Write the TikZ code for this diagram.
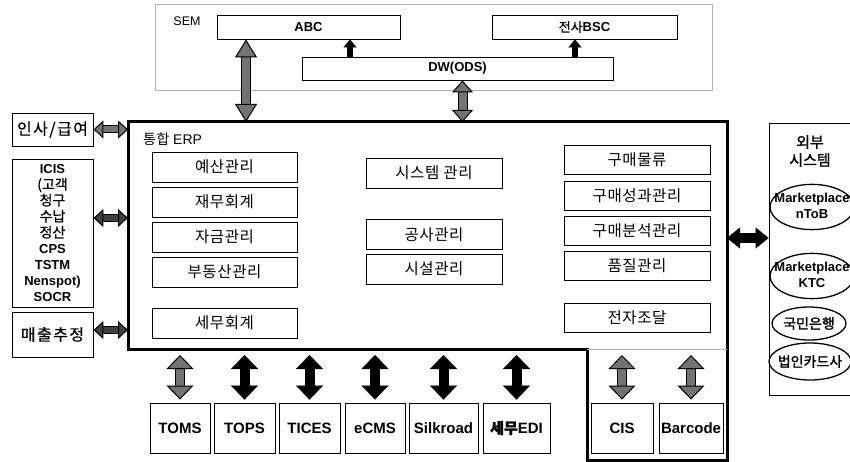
\documentclass[tikz,border=0pt]{standalone}
\usepackage{fontspec}
\setmainfont{Liberation Sans}
\newfontfamily\lat{Liberation Sans}
\newfontfamily\kr{Noto Sans CJK KR}[LetterSpace=4]
\newfontfamily\krw{Noto Sans CJK KR}[LetterSpace=9,FakeBold=0.6]
\newfontfamily\krb{Noto Sans CJK KR}[FakeBold=1.5]
\newfontfamily\krm{Noto Sans CJK KR}[FakeBold=0.8]
\usetikzlibrary{arrows.meta,shapes.geometric}
\tikzset{
  kbox/.style={draw, line width=0.9pt, inner sep=0pt, font=\kr\fontsize{15.5}{18}\selectfont},
  ebox/.style={kbox, minimum width=145pt, minimum height=30pt},
  mbox/.style={kbox, minimum width=136pt, minimum height=30pt},
  rbox/.style={kbox, minimum width=146pt, minimum height=29pt},
  lbox/.style={kbox, minimum width=81pt, font=\krw\fontsize{16}{18}\selectfont},
  topbox/.style={draw, line width=0.9pt, inner sep=0pt, minimum height=24pt, font=\bfseries\fontsize{13}{15}\selectfont},
  sbox/.style={draw, line width=0.9pt, inner sep=0pt, minimum height=50pt, font=\bfseries\fontsize{15}{18}\selectfont},
  ell/.style={ellipse, draw, line width=1.3pt, inner sep=0pt, minimum width=84pt, minimum height=34pt},
  dblk/.style n args={3}{line width=#1, draw=black,
    {Triangle[width=#2,length=#3,line width=0.1pt]}-{Triangle[width=#2,length=#3,line width=0.1pt]}},
  dgry/.style n args={5}{line width=#1, draw=#5,
    {Triangle[width=#3,length=#4,fill=#5,color=black,line width=1pt]}-{Triangle[width=#3,length=#4,fill=#5,color=black,line width=1pt]},
    preaction={draw=black, line width=#2, arrows=-, shorten <=#4, shorten >=#4}},
  sup/.style={line width=6pt, -{Triangle[width=13pt,length=8pt,line width=0.1pt]}},
}
\colorlet{halftone}{black!55}
\begin{document}
\begin{tikzpicture}[x=1pt,y=-1pt]
\useasboundingbox (0,0) rectangle (850,462);
\clip (0,0) rectangle (850,462);

% ---------- SEM ----------
\node[draw=gray!60, line width=0.7pt, minimum width=557pt, minimum height=86pt, inner sep=0pt] (sem) at (433.5,47) {};
\node[font=\fontsize{12.5}{15}\selectfont, inner sep=0pt] (semlbl) at (187,21) {SEM};
\node[topbox, minimum width=183pt] (abc) at (308.5,27) {ABC};
\node[topbox, minimum width=185pt] (bsc) at (584.5,27) {{\krm\mdseries 전사}BSC};
\node[topbox, minimum width=311pt, minimum height=23pt] (dw) at (457.5,68.5) {DW(ODS)};

\coordinate (sa) at (350,0);
\coordinate (sb) at (575,0);
\coordinate (ta) at (246,0);

% ---------- ERP ----------
\coordinate (e1) at (128,122);
\coordinate (e2) at (727,122);
\coordinate (e3) at (727,460);
\coordinate (e4) at (587,460);
\coordinate (e5) at (587,349);
\coordinate (e6) at (128,349);
\draw[line width=3pt, line join=miter] (e1) -- (e2) -- (e3) -- (e4) -- (e5) -- (e6) -- cycle;
\draw[gray!60, line width=0.8pt] (e5) -- (e5 -| e3);
\node[anchor=west, inner sep=0pt, font=\kr\fontsize{14}{16}\selectfont] (erplbl) at (143,139) {통합 {\lat ERP}};

\node[ebox] (yesan) at (224.5,167) {예산관리};
\node[ebox] (jaemu) at (224.5,202) {재무회계};
\node[ebox] (jageum) at (224.5,237) {자금관리};
\node[ebox] (budong) at (224.5,272) {부동산관리};
\node[ebox] (semu) at (224.5,323) {세무회계};
\node[mbox] (sys) at (434,173) {시스템 관리};
\node[mbox] (gongsa) at (434,234.5) {공사관리};
\node[mbox] (siseol) at (434,269) {시설관리};
\node[rbox] (gm1) at (637,159.5) {구매물류};
\node[rbox] (gm2) at (637,195.5) {구매성과관리};
\node[rbox] (gm3) at (637,230.5) {구매분석관리};
\node[rbox] (pum) at (637,266) {품질관리};
\node[rbox] (jeonja) at (637,318) {전자조달};

% ---------- left systems ----------
\node[lbox, minimum height=33pt] (insa) at (52.5,129.5) {인사/급여};
\node[lbox, minimum height=148pt, align=center, font=\bfseries\fontsize{13}{16}\selectfont] (icis) at (52.5,233)
  {ICIS\\{\krm\mdseries\fontsize{14}{16}\selectfont (고객}\\{\krm\mdseries\fontsize{14}{16}\selectfont 청구}\\{\krm\mdseries\fontsize{14}{16}\selectfont 수납}\\{\krm\mdseries\fontsize{14}{16}\selectfont 정산}\\CPS\\TSTM\\Nenspot)\\SOCR};
\node[lbox, minimum height=45pt] (maechul) at (52.5,334.5) {매출추정};

% ---------- external systems ----------
\node[draw, line width=0.9pt, minimum width=92pt, minimum height=272pt, inner sep=0pt] (ext) at (815,259) {};
\node[font=\krb\fontsize{15}{18}\selectfont, align=center, inner sep=0pt] (extlbl) at (810,151) {외부\\시스템};
\node[ell] (ntob) at (812,207) {\makebox[0pt]{\bfseries\fontsize{13}{16}\selectfont\begin{tabular}{@{}c@{}}Marketplace\\nToB\end{tabular}}};
\node[ell] (ktc) at (812,276) {\makebox[0pt]{\bfseries\fontsize{13}{16}\selectfont\begin{tabular}{@{}c@{}}Marketplace\\KTC\end{tabular}}};
\node[ell, minimum width=74pt, minimum height=33pt] (kb) at (809,323.5) {\makebox[0pt]{\krb\fontsize{14}{16}\selectfont 국민은행}};
\node[ell, minimum width=82pt, minimum height=37pt] (card) at (810,361.5) {\makebox[0pt]{\krb\fontsize{14}{16}\selectfont 법인카드사}};

% ---------- bottom systems ----------
\node[sbox, minimum width=60pt] (toms) at (180,428) {TOMS};
\node[sbox, minimum width=61pt] (tops) at (244.5,428) {TOPS};
\node[sbox, minimum width=61pt] (tices) at (309.5,428) {TICES};
\node[sbox, minimum width=60pt] (ecms) at (375,428) {eCMS};
\node[sbox, minimum width=69pt] (silk) at (443.5,428) {Silkroad};
\node[sbox, minimum width=67pt] (edi) at (516.5,428) {{\krb 세무}EDI};
\node[sbox, minimum width=62pt] (cis) at (622,428) {CIS};
\node[sbox, minimum width=64pt] (barcode) at (691,428) {Barcode};

% ---------- connectors ----------
\draw[sup] (dw.north -| sa) -- (abc.south -| sa);
\draw[sup] (dw.north -| sb) -- (bsc.south -| sb);
\draw[dgry={8pt}{10pt}{22pt}{18pt}{halftone}] (abc.south -| ta) -- (ta |- e1);
\draw[dgry={8pt}{10pt}{21pt}{12pt}{halftone}] ([xshift=5pt]dw.south) -- ([xshift=5pt]dw.south |- e1);

\draw[dgry={6pt}{8pt}{18pt}{10pt}{halftone}] (insa.east) -- (insa.east -| e1);
\draw[dgry={6pt}{8pt}{18pt}{10pt}{black!75}] ([yshift=15pt]icis.east) -- ([yshift=15pt]icis.east -| e1);
\draw[dgry={6pt}{8pt}{18pt}{10pt}{black!75}] ([yshift=4.5pt]maechul.east) -- ([yshift=4.5pt]maechul.east -| e1);

\draw[dblk={10pt}{21pt}{13pt}] ([yshift=21pt]ext.west -| e2) -- ([yshift=21pt]ext.west);

\draw[dgry={8pt}{10pt}{27pt}{14pt}{halftone}] ([yshift=-6pt]toms.north |- e6) -- ([yshift=3pt]toms.north);
\draw[dblk={10pt}{27pt}{14pt}] ([yshift=-6pt]tops.north |- e6) -- ([yshift=3pt]tops.north);
\draw[dblk={10pt}{27pt}{14pt}] ([yshift=-6pt]tices.north |- e6) -- ([yshift=3pt]tices.north);
\draw[dblk={10pt}{27pt}{14pt}] ([yshift=-6pt]ecms.north |- e6) -- ([yshift=3pt]ecms.north);
\draw[dblk={10pt}{27pt}{14pt}] ([yshift=-6pt]silk.north |- e6) -- ([yshift=3pt]silk.north);
\draw[dblk={10pt}{27pt}{14pt}] ([yshift=-6pt]edi.north |- e6) -- ([yshift=3pt]edi.north);
\draw[dgry={8pt}{10pt}{27pt}{14pt}{halftone}] ([yshift=-6pt]cis.north |- e5) -- ([yshift=3pt]cis.north);
\draw[dgry={8pt}{10pt}{27pt}{14pt}{halftone}] ([yshift=-6pt]barcode.north |- e5) -- ([yshift=3pt]barcode.north);
\end{tikzpicture}
\end{document}
